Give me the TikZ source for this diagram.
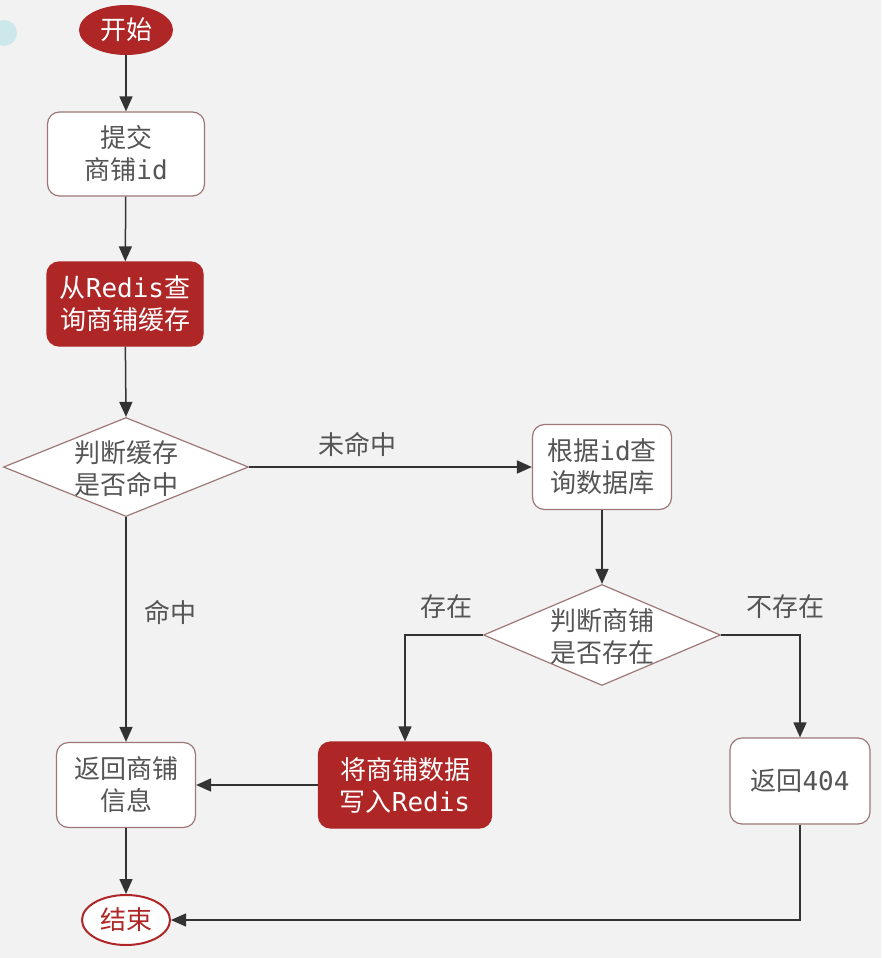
\documentclass[tikz,border=0pt]{standalone}
\usepackage{fontspec}
\setmainfont{Noto Sans CJK SC}
\newfontfamily\lat{DejaVu Sans Mono}
\usetikzlibrary{shapes.geometric,arrows.meta}
\definecolor{bg}{HTML}{F2F2F2}
\definecolor{myred}{HTML}{AE2626}
\definecolor{boxedge}{HTML}{9E7878}
\definecolor{txt}{HTML}{555555}
\definecolor{lin}{HTML}{333333}
\definecolor{teal}{HTML}{CDE8EA}
\begin{document}
\begin{tikzpicture}[x=1pt,y=-1pt,
  box/.style={draw=boxedge, line width=1.2pt, fill=white, rounded corners=12pt,
    minimum width=157pt, minimum height=84pt, align=center, text=txt,
    font=\fontsize{26}{32}\selectfont, inner sep=0pt},
  redbox/.style={box, fill=myred, draw=myred, text=white},
  dia/.style={draw=boxedge, line width=1.2pt, fill=white, diamond, inner sep=0pt},
  term/.style={ellipse, inner sep=0pt, minimum width=94pt, minimum height=50pt,
    font=\fontsize{26}{30}\selectfont},
  link/.style={draw=lin, line width=1.5pt, -{Triangle[length=15pt,width=13pt]}},
  lab/.style={text=txt, align=center, font=\fontsize{26}{32}\selectfont, inner sep=0pt}]
\fill[bg] (0,0) rectangle (881,958);
\useasboundingbox (0,0) rectangle (881,958);
\clip (0,0) rectangle (881,958);
\fill[teal] (4,33) circle (13);

\node[term, fill=myred, text=white] (start) at (126,30) {开始};
\node[box, minimum width=157pt] (submit) at (126,154) {提交\\商铺{\lat id}};
\node[redbox, minimum width=156pt] (query) at (125,304) {从{\lat Redis}查\\询商铺缓存};
\node[dia, minimum width=245pt, minimum height=99pt] (d1) at (126,467) {};
\node[lab] (d1t) at (126,469) {判断缓存\\是否命中};
\node[box, minimum width=139pt, minimum height=85pt] (db) at (602,467) {根据{\lat id}查\\询数据库};
\node[dia, minimum width=237pt, minimum height=101pt] (d2) at (602,635) {};
\node[lab] (d2t) at (602,637) {判断商铺\\是否存在};
\node[redbox, minimum width=173pt, minimum height=86pt] (write) at (405,785) {将商铺数据\\写入{\lat Redis}};
\node[box, minimum width=140pt, minimum height=86pt] (r404) at (800,781) {返回{\lat 404}};
\node[box, minimum width=139pt, minimum height=85pt] (ret) at (126,785) {返回商铺\\信息};
\node[term, draw=myred, line width=2pt, fill=white, text=myred, minimum width=88pt] (end) at (126,920) {结束};

\draw[link] (start) -- (submit);
\draw[link] (submit) -- (query);
\draw[link] (query) -- (d1.north);
\draw[link] (d1.east) -- (db.west);
\draw[link] (d1.south) -- (ret.north);
\draw[link] (db) -- (d2.north);
\draw[link] (d2.west) -| (write.north);
\draw[link] (d2.east) -| (r404.north);
\draw[link] (write.west) -- (ret.east);
\draw[link] (ret) -- (end);
\draw[link] (r404.south) |- (end.east);

\node[lab] (l1) at (357,444) {未命中};
\node[lab] (l2) at (170,612) {命中};
\node[lab] (l3) at (446,607) {存在};
\node[lab] (l4) at (785,607) {不存在};
\end{tikzpicture}
\end{document}
